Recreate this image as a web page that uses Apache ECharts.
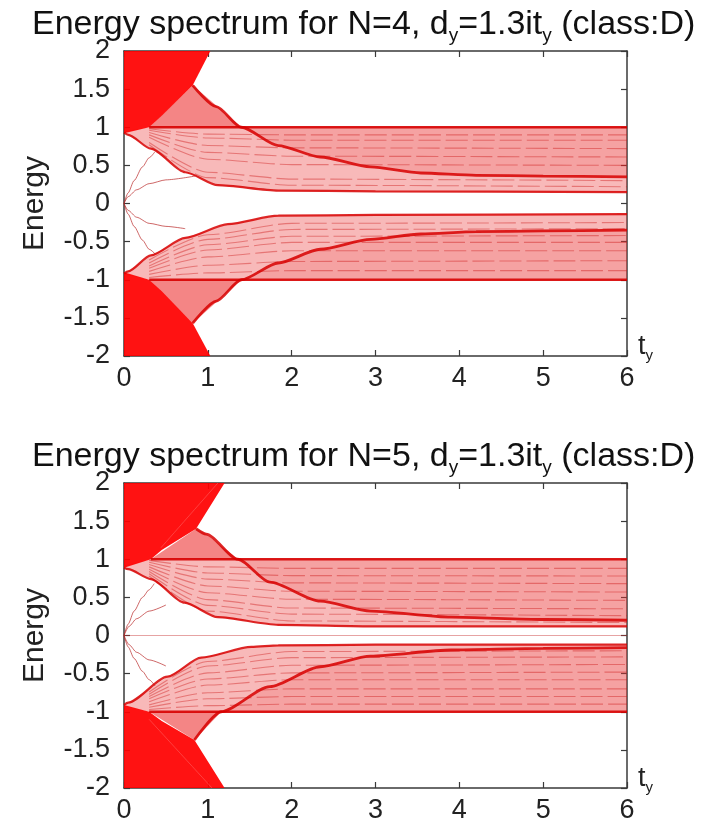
<!DOCTYPE html>
<html lang="en">
<head>
<meta charset="UTF-8">
<title>Energy spectrum</title>
<script src="https://cdn.jsdelivr.net/npm/echarts@6/dist/echarts.min.js"></script>
<style>
    html, body { margin: 0; background: #fff; }
    #chart { width: 702px; height: 834px; }
</style>
</head>
<body>
<div id="chart"></div>
<script>
// axes
const xTicks = [0, 1, 2, 3, 4, 5, 6];
const yTicks = [-2, -1.5, -1, -0.5, 0, 0.5, 1, 1.5, 2];

// ---- N=4 panel, points are [t_y, E] ----
const denseUp4 = [[0, 2], [1.03, 2], [0.82, 1.55], [0.45, 1.15], [0.3, 1.0], [0, 0.92]];
const denseDn4 = [[0, -2], [1.03, -2], [0.82, -1.57], [0.45, -1.15], [0.3, -1.0], [0, -0.9]];
const wedgeUp4 = [[0.3, 1.0], [0.82, 1.55], [1.4, 1.0]];
const wedgeDn4 = [[0.3, -1.0], [0.82, -1.57], [1.4, -1.0]];
const crossUp4 = [[0.82, 1.55], [1.1, 1.27], [1.4, 1.0], [1.84, 0.76], [2.34, 0.61], [2.94, 0.48], [3.54, 0.4], [4.2, 0.37], [5, 0.36], [6, 0.35]];
const crossDn4 = [[0.82, -1.57], [1.1, -1.28], [1.4, -1.0], [1.84, -0.78], [2.34, -0.6], [2.94, -0.47], [3.54, -0.4], [4.2, -0.37], [5, -0.36], [6, -0.35]];
const topUp4 = [[0, 0.95], [0.3, 1.0], [6, 1.0]];
const topDn4 = [[0, -0.93], [0.3, -1.0], [6, -1.0]];
const edgeUp4 = [[0, 0.93], [0.05, 0.9], [0.32, 0.72], [0.73, 0.41], [1.12, 0.24], [1.84, 0.17], [3, 0.16], [6, 0.15]];
const edgeDn4 = [[0, -0.92], [0.05, -0.89], [0.32, -0.68], [0.73, -0.45], [1.24, -0.27], [1.84, -0.16], [3, -0.15], [6, -0.14]];
const gapCurves4 = [
    [[0, 0], [0.05, 0.14], [0.12, 0.3], [0.22, 0.48], [0.3, 0.6], [0.37, 0.68]],
    [[0, 0], [0.05, 0.09], [0.15, 0.18], [0.3, 0.26], [0.5, 0.31], [0.85, 0.36]],
    [[0, 0], [0.05, -0.14], [0.12, -0.3], [0.22, -0.48], [0.3, -0.6], [0.37, -0.66]],
    [[0, 0], [0.05, -0.09], [0.15, -0.18], [0.3, -0.26], [0.5, -0.3], [0.73, -0.33]]
];
// inner levels: E at t = streakT
const streakT = [0.3, 1, 2, 6];
const streaks4 = [
    [0.98, 0.91, 0.9, 0.9], [0.96, 0.86, 0.83, 0.83], [0.93, 0.76, 0.73, 0.72],
    [0.9, 0.67, 0.62, 0.61], [0.87, 0.58, 0.51, 0.5], [0.8, 0.41, 0.32, 0.3], [0.77, 0.34, 0.24, 0.22],
    [-0.74, -0.41, -0.26, -0.25], [-0.78, -0.47, -0.34, -0.33], [-0.82, -0.54, -0.43, -0.42],
    [-0.85, -0.61, -0.51, -0.51], [-0.89, -0.7, -0.62, -0.62], [-0.93, -0.81, -0.76, -0.75], [-0.97, -0.91, -0.88, -0.88]
];

// ---- N=5 panel ----
const denseUp5 = [[0, 2], [1.2, 2], [0.86, 1.4], [0.45, 1.12], [0.32, 1.0], [0, 0.89]];
const denseDn5 = [[0, -2], [1.2, -2], [0.84, -1.37], [0.45, -1.12], [0.3, -1.0], [0, -0.91]];
const wedgeUp5 = [[0.32, 1.0], [0.86, 1.4], [0.98, 1.33], [1.36, 1.0]];
const wedgeDn5 = [[0.3, -1.0], [0.84, -1.37], [1.16, -1.0]];
const crossUp5 = [[0.86, 1.4], [0.98, 1.33], [1.36, 1.0], [1.74, 0.7], [2.34, 0.45], [2.94, 0.32], [3.9, 0.24], [5, 0.21], [6, 0.2]];
const crossDn5 = [[0.84, -1.37], [1.16, -1.0], [1.74, -0.67], [2.34, -0.41], [2.94, -0.27], [3.9, -0.19], [5, -0.17], [6, -0.16]];
const topUp5 = [[0, 0.92], [0.32, 1.0], [6, 1.0]];
const topDn5 = [[0, -0.93], [0.3, -1.0], [6, -1.0]];
const edgeUp5 = [[0, 0.89], [0.05, 0.87], [0.32, 0.74], [0.72, 0.43], [1.12, 0.24], [1.84, 0.14], [3, 0.12], [6, 0.12]];
const edgeDn5 = [[0, -0.91], [0.05, -0.88], [0.52, -0.54], [0.92, -0.29], [1.52, -0.15], [1.84, -0.13], [3, -0.12], [6, -0.12]];
const zeroLine5 = [[0, 0], [6, 0]];
const gapCurves5 = [
    [[0, 0], [0.05, 0.15], [0.12, 0.32], [0.22, 0.5], [0.3, 0.6], [0.36, 0.68]],
    [[0, 0], [0.06, 0.12], [0.15, 0.22], [0.3, 0.32], [0.5, 0.4]],
    [[0, 0], [0.05, -0.15], [0.12, -0.3], [0.22, -0.47], [0.3, -0.58], [0.37, -0.66]],
    [[0, 0], [0.06, -0.12], [0.15, -0.22], [0.3, -0.32], [0.5, -0.4]]
];
const lightLines5 = [
    [[0.44, 1.15], [1.12, 2.0]],
    [[0.3, -1.1], [1.05, -2.0]]
];
const streaks5 = [
    [0.985, 0.9, 0.88, 0.88], [0.96, 0.82, 0.785, 0.78], [0.93, 0.74, 0.69, 0.68], [0.9, 0.65, 0.58, 0.57],
    [0.87, 0.56, 0.475, 0.46], [0.84, 0.47, 0.36, 0.35], [0.81, 0.395, 0.28, 0.26], [0.78, 0.32, 0.19, 0.17],
    [-0.74, -0.34, -0.21, -0.2], [-0.77, -0.4, -0.29, -0.28], [-0.8, -0.49, -0.39, -0.38], [-0.83, -0.57, -0.49, -0.48],
    [-0.87, -0.65, -0.58, -0.58], [-0.91, -0.75, -0.7, -0.7], [-0.94, -0.83, -0.8, -0.8], [-0.97, -0.92, -0.9, -0.9]
];

const font = 'Liberation Sans';
const frame = '#3a3a3a';

const panels = [
    { N: '4', top: 51, denseUp: denseUp4, denseDn: denseDn4, wedgeUp: wedgeUp4, wedgeDn: wedgeDn4,
      crossUp: crossUp4, crossDn: crossDn4, topUp: topUp4, topDn: topDn4, edgeUp: edgeUp4, edgeDn: edgeDn4,
      gaps: gapCurves4, streaks: streaks4, extra: [] },
    { N: '5', top: 483, denseUp: denseUp5, denseDn: denseDn5, wedgeUp: wedgeUp5, wedgeDn: wedgeDn5,
      crossUp: crossUp5, crossDn: crossDn5, topUp: topUp5, topDn: topDn5, edgeUp: edgeUp5, edgeDn: edgeDn5,
      gaps: gapCurves5, streaks: streaks5, extra: [zeroLine5] }
];

function poly(gi, pts, fill, z) {
    return {
        type: 'custom', xAxisIndex: gi * 2, yAxisIndex: gi * 2, silent: true, z: z,
        data: [[0, 0]],
        renderItem: function (params, api) {
            return { type: 'polygon', shape: { points: pts.map(p => api.coord(p)) }, style: { fill: fill } };
        }
    };
}

function curve(gi, pts, color, width, z, dash) {
    return {
        type: 'line', xAxisIndex: gi * 2, yAxisIndex: gi * 2, data: pts, silent: true, z: z,
        showSymbol: false, smooth: 0.25, smoothMonotone: 'x',
        lineStyle: { color: color, width: width, type: dash || 'solid' }
    };
}

// part of a crossing curve inside the |E|<=1 band, closed along E=+-1
function belowCross(pts, level) {
    const k = pts.findIndex(p => Math.abs(p[1]) <= 1.0001);
    const inner = pts.slice(k);
    return inner.concat([[6, level], [inner[0][0], level]]);
}

const grids = [], xAxes = [], yAxes = [], titles = [], series = [];

panels.forEach(function (p, gi) {
    grids.push({ left: 124, right: 75, top: p.top, height: 305 });

    const axisLine = { show: true, onZero: false, lineStyle: { color: frame, width: 1.5 } };
    const tick = { show: true, inside: true, length: 6, lineStyle: { color: frame, width: 1.2 } };
    xAxes.push({
        gridIndex: gi, type: 'value', position: 'bottom',
        min: xTicks[0], max: xTicks[xTicks.length - 1], interval: xTicks[1] - xTicks[0],
        axisLine: axisLine, axisTick: tick, splitLine: { show: false },
        axisLabel: { fontSize: 27, fontFamily: font, color: '#222', margin: 9 },
        name: '{t|t}{s|y}', nameLocation: 'end', nameGap: 11,
        nameTextStyle: {
            padding: [0, 0, 18, 0],
            rich: {
                t: { fontSize: 27, fontFamily: font, color: '#222', lineHeight: 32 },
                s: { fontSize: 15, fontFamily: font, color: '#222', lineHeight: 32, verticalAlign: 'bottom' }
            }
        }
    });
    xAxes.push({
        gridIndex: gi, type: 'value', position: 'top',
        min: xTicks[0], max: xTicks[xTicks.length - 1], interval: xTicks[1] - xTicks[0],
        axisLine: axisLine, axisTick: tick, splitLine: { show: false }, axisLabel: { show: false }
    });
    yAxes.push({
        gridIndex: gi, type: 'value', position: 'left',
        min: yTicks[0], max: yTicks[yTicks.length - 1], interval: yTicks[1] - yTicks[0],
        axisLine: axisLine, axisTick: tick, splitLine: { show: false },
        axisLabel: { fontSize: 27, fontFamily: font, color: '#222', margin: 14 },
        name: 'Energy', nameLocation: 'middle', nameGap: 74,
        nameTextStyle: { fontSize: 30, fontFamily: font, color: '#222' }
    });
    yAxes.push({
        gridIndex: gi, type: 'value', position: 'right',
        min: yTicks[0], max: yTicks[yTicks.length - 1], interval: yTicks[1] - yTicks[0],
        axisLine: axisLine, axisTick: tick, splitLine: { show: false }, axisLabel: { show: false }
    });

    titles.push({
        left: 27, top: p.top - 51,
        text: '{a|Energy spectrum for N=' + p.N + ', d}{s|y}{a|=1.3it}{s|y}{a| (class:D)}',
        textStyle: {
            fontWeight: 'normal',
            rich: {
                a: { fontSize: 34, fontFamily: font, fontWeight: 'normal', color: '#111', lineHeight: 40 },
                s: { fontSize: 19, fontFamily: font, fontWeight: 'normal', color: '#111', lineHeight: 40, verticalAlign: 'bottom' }
            }
        }
    });

    // filled regions
    series.push(poly(gi, p.topUp.concat(p.edgeUp.slice().reverse()), 'rgba(236,60,60,0.36)', 1));
    series.push(poly(gi, p.topDn.concat(p.edgeDn.slice().reverse()), 'rgba(236,60,60,0.36)', 1));
    series.push(poly(gi, belowCross(p.crossUp, 1.0), 'rgba(230,30,30,0.14)', 1));
    series.push(poly(gi, belowCross(p.crossDn, -1.0), 'rgba(230,30,30,0.14)', 1));
    series.push(poly(gi, p.wedgeUp, 'rgba(236,45,45,0.58)', 1));
    series.push(poly(gi, p.wedgeDn, 'rgba(236,45,45,0.58)', 1));
    series.push(poly(gi, p.denseUp, 'rgba(255,0,0,0.93)', 2));
    series.push(poly(gi, p.denseDn, 'rgba(255,0,0,0.93)', 2));

    // inner streaks
    p.streaks.forEach(function (s) {
        series.push(curve(gi, streakT.map((t, i) => [t, s[i]]), 'rgba(205,25,25,0.42)', 1.1, 3, [22, 5]));
    });

    // in-gap states
    p.gaps.forEach(function (g) {
        series.push(curve(gi, g, 'rgba(185,40,40,0.7)', 1, 4));
    });
    p.extra.forEach(function (g) {
        series.push(curve(gi, g, 'rgba(200,50,50,0.45)', 1.2, 4));
    });

    // band edges
    [p.edgeUp, p.edgeDn].forEach(function (g) {
        series.push(curve(gi, g, 'rgba(215,0,0,0.85)', 2.2, 5));
    });
    [p.topUp.slice(1), p.topDn.slice(1)].forEach(function (g) {
        series.push(curve(gi, g, 'rgba(215,0,0,0.9)', 2.6, 5));
    });
    [p.crossUp, p.crossDn].forEach(function (g) {
        series.push(curve(gi, g, 'rgba(215,0,0,0.85)', 2.8, 5));
    });
});

lightLines5.forEach(function (g) {
    series.push(curve(1, g, 'rgba(255,120,120,0.45)', 1, 6));
});

const myChart = echarts.init(document.getElementById('chart'));
myChart.setOption({
    animation: false,
    backgroundColor: '#fff',
    title: titles,
    grid: grids,
    xAxis: xAxes,
    yAxis: yAxes,
    series: series
});
</script>
</body>
</html>
